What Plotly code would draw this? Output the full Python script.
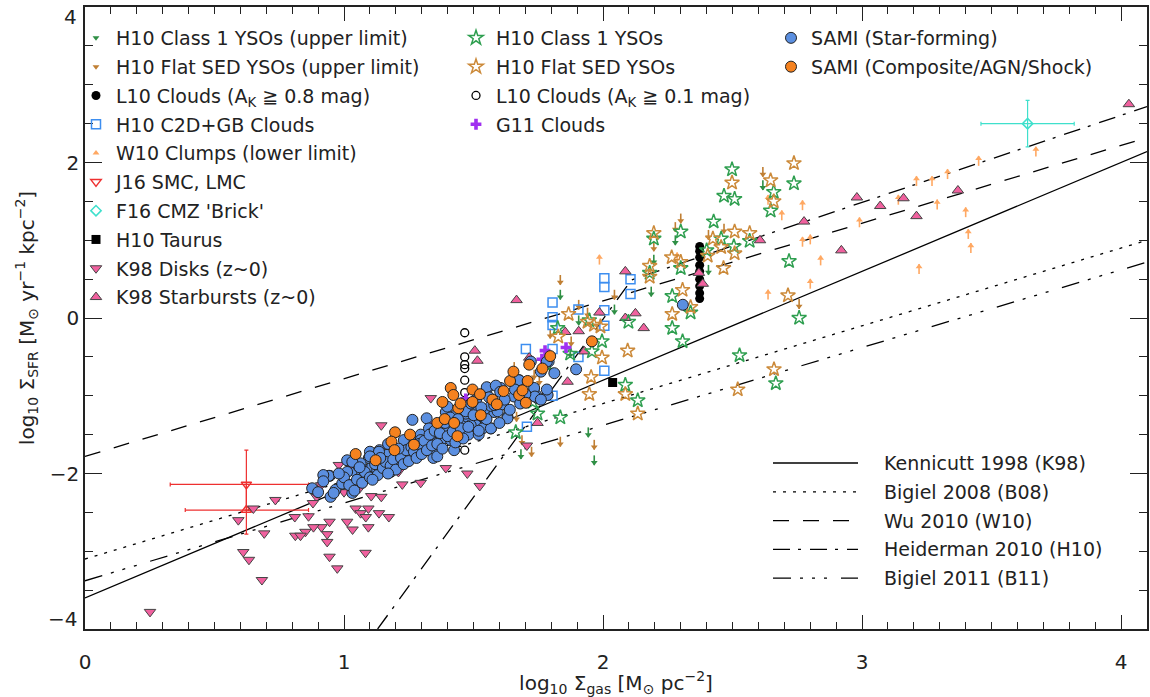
import plotly.graph_objects as go

# ---------------- data: x = log10 Σgas [M☉ pc^-2], y = log10 ΣSFR [M☉ yr^-1 kpc^-2] ----------------
h10_c1_ul_x = [2.617, 2.279, 2.196, 2.186, 2.407, 2.044, 1.835, 1.906, 1.873, 1.796, 1.943, 1.966, 1.683, 1.737]
h10_c1_ul_y = [1.71, 1.00, 0.75, 0.34, 0.62, 0.11, 0.30, -0.03, -0.45, -0.63, -1.47, -1.83, -1.75, -0.94]

h10_flat_ul_x = [2.617, 2.30, 2.279, 2.196, 2.467, 2.407, 1.835, 2.044, 1.906, 1.877, 2.757, 1.796, 1.657,
                 1.734, 1.754, 1.666, 1.687, 1.724, 1.835, 1.966, 1.94]
h10_flat_ul_y = [1.88, 1.28, 1.17, 0.92, 1.15, 1.07, 0.49, 0.30, 0.17, -0.30, 0.18, -0.20, -0.63,
                 -0.73, -0.80, -1.27, -1.57, -1.72, -1.59, -1.63, 0.07]

l10_hi_x = [2.373, 2.373, 2.373, 2.373, 2.373, 2.373, 2.373, 2.373, 2.373]
l10_hi_y = [0.92, 0.86, 0.78, 0.68, 0.60, 0.50, 0.41, 0.32, 0.25]

h10_c2d_x = [2.005, 2.005, 2.106, 2.106, 1.805, 1.805, 1.805, 2.005, 2.005, 1.905, 1.702, 1.805, 1.905,
             2.005, 1.805, 1.706]
h10_c2d_y = [0.51, 0.40, 0.50, 0.31, 0.20, 0.01, -0.09, 0.10, -0.10, 0.11, -0.40, -0.40, -0.50,
             -0.68, -1.00, -1.40]

w10_x = [3.671, 3.45, 3.33, 3.27, 3.21, 3.14, 3.29, 3.40, 2.99, 2.77, 2.69, 2.77, 2.80, 2.84, 3.41,
         3.42, 3.22, 2.80, 2.637, 2.637, 1.986, 2.286]
w10_y = [2.14, 2.02, 1.85, 1.76, 1.76, 1.52, 1.46, 1.36, 1.23, 1.45, 1.32, 0.98, 1.01, 0.74, 1.08,
         0.90, 0.63, 0.44, 1.52, 0.30, 0.75, 0.78]

j16_x = [0.623, 0.623]            # SMC (down), LMC (up)
j16_y = [-2.14, -2.47]
j16_xerr_minus = [0.294, 0.236]
j16_xerr_plus = [0.24, 0.24]
j16_yerr_plus = [0.44, 0.33]
j16_yerr_minus = [0.33, 0.31]

f16_x = [3.639]
f16_y = [2.50]
f16_xerr = [0.18]
f16_yerr = [0.30]

taurus_x = [2.037]
taurus_y = [-0.83]

k98_disk_x = [1.144, 0.98, 0.912, 1.06, 0.894, 1.105, 1.144, 0.735, 0.65, 0.88, 1.225, 1.045, 1.064, 1.094,
              1.135, 1.173, 1.084, 0.592, 0.81, 0.863, 1.012, 0.944, 0.913, 0.882, 1.033, 1.094, 0.851,
              0.812, 0.832, 0.692, 0.935, 0.935, 0.611, 0.633, 0.944, 1.083, 0.974, 0.683, 0.251, 1.335,
              1.393, 1.476, 1.524, 1.706, 1.296, 1.21, 1.025, 1.0, 1.033, 1.12]
k98_disk_y = [-1.38, -1.89, -2.15, -2.19, -2.30, -2.29, -2.30, -2.34, -2.45, -2.38, -2.14, -2.45, -2.51, -2.45,
              -2.51, -2.56, -2.56, -2.60, -2.56, -2.55, -2.62, -2.62, -2.69, -2.69, -2.72, -2.69, -2.75,
              -2.80, -2.80, -2.77, -2.78, -2.88, -3.01, -3.11, -3.07, -3.02, -3.22, -3.37, -3.78, -1.03,
              -1.93, -2.00, -2.16, -1.64, -2.12, -1.98, -2.11, -2.24, -1.92, -1.96]

k98_sb_x = [4.03, 2.98, 3.07, 3.16, 3.21, 3.37, 2.776, 2.92, 2.606, 2.086, 2.37, 2.385, 1.986, 2.086, 2.125,
            2.157, 1.854, 1.906, 1.928, 1.715, 1.666, 1.505, 1.515, 1.863, 1.747]
k98_sb_y = [2.75, 1.55, 1.44, 1.54, 1.31, 1.64, 1.24, 0.87, 1.00, 0.60, 0.58, 0.44, 0.07, 0.00, 0.06,
            -0.13, -0.18, -0.17, -0.43, -0.51, 0.23, -0.42, -0.55, -0.82, -1.35]

h10_c1_x = [2.498, 2.467, 2.508, 2.659, 2.647, 2.737, 2.427, 2.30, 2.196, 2.456, 2.505, 2.566, 2.40, 2.718,
            2.30, 2.18, 2.267, 2.338, 2.267, 2.307, 2.757, 2.527, 2.098, 1.947, 1.825, 1.996, 1.957, 1.873,
            2.086, 2.134, 1.835, 1.747, 1.663, 1.728, 2.667]
h10_c1_y = [1.91, 1.57, 1.53, 1.62, 1.38, 1.73, 1.24, 1.11, 1.02, 1.02, 0.92, 0.99, 0.87, 0.73,
            0.64, 0.58, 0.28, 0.07, -0.13, -0.30, 0.00, -0.48, -0.05, -0.03, -0.13, -0.30, -0.43, -0.46,
            -0.86, -1.06, -1.28, -1.23, -1.47, -1.08, -0.84]

h10_flat_x = [2.737, 2.498, 2.647, 2.659, 2.196, 2.508, 2.566, 2.424, 2.456, 2.508, 2.404, 2.465, 2.265,
              2.30, 2.18, 2.18, 2.307, 2.714, 2.338, 2.267, 1.867, 2.095, 1.996, 1.827, 1.954, 1.947,
              2.086, 2.134, 2.52, 1.94, 1.965, 1.99, 2.66]
h10_flat_y = [1.99, 1.74, 1.77, 1.50, 1.09, 1.11, 1.09, 1.02, 0.91, 0.83, 0.80, 0.64, 0.78,
              0.72, 0.67, 0.53, 0.36, 0.29, 0.14, 0.05, 0.05, -0.42, -0.51, -0.24, -0.76, -0.98,
              -0.98, -1.23, -0.92, -0.05, -0.09, -0.11, -0.66]

l10_lo_x = [1.466, 1.466, 1.466, 1.466, 1.466, 1.466, 1.466]
l10_lo_y = [-0.19, -0.50, -0.60, -0.65, -0.80, -0.96, -1.70]

g11_x = [1.776, 1.764, 1.857, 1.47, 1.34]
g11_y = [-0.42, -0.53, -0.38, -1.04, -1.40]

sami_sf_x = [0.877, 0.945, 0.967, 0.993, 1.012, 1.032, 1.045, 1.057, 1.07, 1.09, 1.10, 1.109, 1.128, 1.137,
             1.154, 1.17, 1.18, 1.199, 1.212, 1.219, 1.234, 1.244, 1.257, 1.264, 1.277, 1.29, 1.296, 1.309,
             1.319, 1.328, 1.337, 1.345, 1.354, 1.36, 1.373, 1.386, 1.393, 1.399, 1.412, 1.425, 1.431,
             1.438, 1.444, 1.451, 1.463, 1.47, 1.476,
             1.747, 1.786, 1.721, 1.79, 1.76, 1.676, 1.657, 1.631, 1.605, 1.58, 1.567, 1.554, 1.528, 1.509,
             1.476, 1.36, 1.341, 1.296, 1.231, 1.212, 1.186, 1.167, 1.135, 1.096, 1.064, 1.032, 1.012,
             0.948, 0.941, 0.92,
             1.896, 1.812, 1.783, 1.741, 1.783, 2.308,
             1.551, 1.586, 1.603, 1.399, 1.431, 1.47, 1.502, 1.541, 1.567, 1.593, 1.612, 1.631, 1.547,
             1.489, 1.451, 1.535, 1.567, 1.48, 1.52, 1.734, 1.737, 1.76, 1.675,
             1.00, 1.02, 1.05, 1.07, 1.08, 1.10, 1.12, 1.13, 1.15, 1.16, 1.18, 1.19, 1.20, 1.22, 1.23,
             1.24, 1.25, 1.26, 1.27, 1.28, 1.29, 1.30, 1.31, 1.32, 1.33, 1.34, 1.35, 1.36, 1.37, 1.38,
             1.39, 1.40, 1.41, 1.42, 1.43, 1.44, 1.45, 1.46, 1.47, 1.48, 1.49, 1.50, 1.51, 1.52, 1.53,
             1.55, 1.56, 1.58, 1.60, 1.62, 1.64, 1.66, 1.68, 1.70, 1.10, 1.14, 1.06, 0.98, 0.92, 0.90,
             0.96, 1.04, 1.11, 1.17, 1.21, 1.17]
sami_sf_y = [-2.19, -2.03, -2.21, -2.13, -1.83, -2.25, -1.98, -1.91, -2.00, -1.95, -1.72, -1.91, -1.95, -1.70,
             -1.83, -1.76, -1.98, -1.78, -1.87, -1.76, -1.72, -1.63, -1.78, -1.31, -1.57, -1.74, -1.50, -1.68,
             -1.29, -1.42, -1.57, -1.80, -1.70, -1.53, -1.40, -1.55, -1.21, -1.44, -1.57, -1.70, -1.38,
             -1.50, -1.16, -1.27, -1.23, -1.35, -1.14,
             -1.03, -0.99, -0.56, -0.56, -0.69, -0.80, -1.01, -1.27, -0.90, -1.21, -1.42, -0.90, -1.33, -1.38,
             -1.27, -1.78, -1.48, -1.57, -1.57, -1.74, -1.65, -1.76, -1.72, -1.80, -1.87, -1.85, -1.98,
             -2.30, -2.03, -2.02,
             -0.66, -0.71, -0.92, -0.99, -0.56, 0.17,
             -0.89, -0.87, -0.95, -1.14, -1.25, -1.23, -1.18, -1.18, -1.13, -1.20, -1.11, -1.29, -1.31,
             -1.38, -1.44, -1.42, -1.42, -1.50, -1.50, -0.90, -1.01, -1.05, -0.80,
             -2.05, -2.15, -2.08, -2.12, -1.98, -2.05, -1.88, -2.02, -1.93, -1.85, -1.90, -1.82, -1.95, -1.80, -1.88,
             -1.70, -1.84, -1.66, -1.72, -1.80, -1.62, -1.75, -1.58, -1.70, -1.50, -1.64, -1.45, -1.62, -1.48, -1.68,
             -1.35, -1.52, -1.28, -1.46, -1.60, -1.30, -1.42, -1.55, -1.20, -1.40, -1.10, -1.25, -1.05, -1.45, -1.15,
             -1.30, -1.02, -1.12, -1.35, -1.05, -1.18, -0.92, -1.10, -0.98, -1.78, -1.80, -1.92, -2.00, -2.10, -2.24,
             -2.25, -2.22, -2.08, -2.00, -1.68, -1.62]

sami_comp_x = [1.045, 1.122, 1.197, 1.183, 1.195, 1.255, 1.27, 1.36, 1.389, 1.425, 1.38, 1.412, 1.422, 1.441,
               1.438, 1.496, 1.525, 1.528, 1.496, 1.573, 1.59, 1.616, 1.641, 1.654, 1.676, 1.689, 1.709,
               1.702, 1.715, 1.796, 1.957, 1.766, 1.45]
sami_comp_y = [-1.75, -1.83, -1.47, -1.59, -1.70, -1.50, -1.63, -1.35, -1.30, -1.35, -1.08, -0.90, -0.99, -1.16,
               -1.52, -0.92, -0.98, -1.25, -1.08, -1.05, -1.11, -0.94, -0.81, -0.69, -0.99, -0.93, -0.81,
               -1.09, -0.60, -0.49, -0.30, -0.65, -1.10]

# published relations: (slope, intercept) in log space
rel_x_range = [0.0, 4.1]
k98_rel = [1.4, -3.6]
b08_rel = [1.0, -3.1]
w10_rel = [1.0, -1.78]
b11_rel = [1.0, -3.38]
h10_break = [2.11, 0.49]          # (x, y) of the Heiderman threshold
h10_slopes = [4.58, 1.12]

line_names = ["Kennicutt 1998 (K98)", "Bigiel 2008 (B08)", "Wu 2010 (W10)",
              "Heiderman 2010 (H10)", "Bigiel 2011 (B11)"]

# axis ticks
x_ticks = [0, 1, 2, 3, 4]
y_ticks = [-4, -2, 0, 2, 4]
y_tick_text = ["−4", "−2", "0", "2", "4"]

# ---------------- styling ----------------
FONT = "DejaVu Sans"
TXT = "#222222"
LEG_SIZE = 19
C_GREEN_ARR = "#2f8f45"
C_BROWN_ARR = "#c07f33"
C_LORANGE = "#ffa862"
C_SQ = "#3d8ef0"
C_RED = "#ee3030"
C_CYAN = "#3fe0cc"
C_PINK = "#f0609e"
C_GREEN = "#2f9f50"
C_BROWN = "#cc8a3a"
C_PURPLE = "#a030f0"
C_BLUE = "#5b8fe0"
C_ORANGE = "#f5821f"
HEAD_SHIFT = 0.03
DASHES = ["solid", "3px,7px", "16px,14px", "17px,8px,3px,9px", "18px,9px,3px,9px,3px,9px,3px,14px"]

fig = go.Figure()

# relation lines
def line_pts(rel):
    xs = rel_x_range
    return xs, [rel[0] * v + rel[1] for v in xs]

h10_x0 = h10_break[0] - (h10_break[1] + 4.0) / h10_slopes[0]
h10_lx = [h10_x0, h10_break[0], rel_x_range[1]]
h10_ly = [h10_break[1] + h10_slopes[0] * (h10_x0 - h10_break[0]), h10_break[1],
          h10_break[1] + h10_slopes[1] * (rel_x_range[1] - h10_break[0])]

rel_series = [line_pts(k98_rel), line_pts(b08_rel), line_pts(w10_rel), (h10_lx, h10_ly), line_pts(b11_rel)]
for (lx, ly), nm, ds in zip(rel_series, line_names, DASHES):
    fig.add_trace(go.Scatter(x=lx, y=ly, mode="lines", name=nm, showlegend=False,
                             line=dict(color="black", width=1.3, dash=ds), hoverinfo="skip"))


def add_arrows(x, y, color, name, legend, direction):
    sign = -1 if direction == "down" else 1
    fig.add_trace(go.Scatter(x=x, y=y, mode="markers", showlegend=False, legend=legend, legendgroup=name,
                             marker=dict(symbol="line-ns", size=7, line=dict(width=1.6, color=color)),
                             hoverinfo="skip"))
    fig.add_trace(go.Scatter(x=x, y=[v + sign * HEAD_SHIFT for v in y], mode="markers", name=name,
                             legend=legend, legendgroup=name,
                             marker=dict(symbol="triangle-" + direction, size=6, color=color,
                                         line=dict(width=0))))


def add_pts(x, y, name, legend, marker, **kw):
    fig.add_trace(go.Scatter(x=x, y=y, mode="markers", name=name, legend=legend, legendgroup=name,
                             marker=marker, **kw))


# ---- legend 1 (left column)
add_arrows(h10_c1_ul_x, h10_c1_ul_y, C_GREEN_ARR, "H10 Class 1 YSOs (upper limit)", "legend", "down")
add_arrows(h10_flat_ul_x, h10_flat_ul_y, C_BROWN_ARR, "H10 Flat SED YSOs (upper limit)", "legend", "down")
add_pts(l10_hi_x, l10_hi_y, "L10 Clouds (A<sub>K</sub> ≧ 0.8 mag)", "legend",
        dict(symbol="circle", size=9, color="black"))
add_pts(h10_c2d_x, h10_c2d_y, "H10 C2D+GB Clouds", "legend",
        dict(symbol="square-open", size=9, color=C_SQ, line=dict(width=1.5)))
add_arrows(w10_x, w10_y, C_LORANGE, "W10 Clumps (lower limit)", "legend", "up")
add_pts([j16_x[0]], [j16_y[0]], "J16 SMC, LMC", "legend",
        dict(symbol="triangle-down-open", size=9, color=C_RED, line=dict(width=1.5)),
        error_x=dict(type="data", symmetric=False, array=[j16_xerr_plus[0]], arrayminus=[j16_xerr_minus[0]],
                     color=C_RED, thickness=1.2, width=2),
        error_y=dict(type="data", symmetric=False, array=[j16_yerr_plus[0]], arrayminus=[j16_yerr_minus[0]],
                     color=C_RED, thickness=1.2, width=2))
fig.add_trace(go.Scatter(x=[j16_x[1]], y=[j16_y[1]], mode="markers", showlegend=False, legend="legend",
                         legendgroup="J16 SMC, LMC",
                         marker=dict(symbol="triangle-up-open", size=9, color=C_RED, line=dict(width=1.5)),
                         error_x=dict(type="data", symmetric=False, array=[j16_xerr_plus[1]],
                                      arrayminus=[j16_xerr_minus[1]], color=C_RED, thickness=1.2, width=2),
                         error_y=dict(type="data", symmetric=False, array=[j16_yerr_plus[1]],
                                      arrayminus=[j16_yerr_minus[1]], color=C_RED, thickness=1.2, width=2)))
add_pts(f16_x, f16_y, "F16 CMZ 'Brick'", "legend",
        dict(symbol="diamond-open", size=8, color=C_CYAN, line=dict(width=1.5)),
        error_x=dict(type="data", array=f16_xerr, color=C_CYAN, thickness=1.2, width=2),
        error_y=dict(type="data", array=f16_yerr, color=C_CYAN, thickness=1.2, width=2))
add_pts(taurus_x, taurus_y, "H10 Taurus", "legend", dict(symbol="square", size=9, color="black"))
add_pts(k98_disk_x, k98_disk_y, "K98 Disks (z~0)", "legend",
        dict(symbol="triangle-down", size=10, color=C_PINK, line=dict(width=1, color="#444")))
add_pts(k98_sb_x, k98_sb_y, "K98 Starbursts (z~0)", "legend",
        dict(symbol="triangle-up", size=10, color=C_PINK, line=dict(width=1, color="#444")))

# ---- legend 2 (middle column)
add_pts(h10_c1_x, h10_c1_y, "H10 Class 1 YSOs", "legend2",
        dict(symbol="star-open", size=11, color=C_GREEN, line=dict(width=1.5)))
add_pts(h10_flat_x, h10_flat_y, "H10 Flat SED YSOs", "legend2",
        dict(symbol="star-open", size=11, color=C_BROWN, line=dict(width=1.5)))
add_pts(l10_lo_x, l10_lo_y, "L10 Clouds (A<sub>K</sub> ≧ 0.1 mag)", "legend2",
        dict(symbol="circle-open", size=8, color="black", line=dict(width=1.3)))
add_pts(g11_x, g11_y, "G11 Clouds", "legend2", dict(symbol="cross", size=9, color=C_PURPLE))

# ---- legend 3 (SAMI)
add_pts(sami_sf_x, sami_sf_y, "SAMI (Star-forming)", "legend3",
        dict(symbol="circle", size=11, color=C_BLUE, line=dict(width=1, color="#222")))
add_pts(sami_comp_x, sami_comp_y, "SAMI (Composite/AGN/Shock)", "legend3",
        dict(symbol="circle", size=11, color=C_ORANGE, line=dict(width=1, color="#222")))

# ---- manual legend for relation lines
PLOT_L, PLOT_R, PLOT_T, PLOT_B = 85, 1147, 7, 629
def px2paper(px, py):
    return (px - PLOT_L) / (PLOT_R - PLOT_L), (PLOT_B - py) / (PLOT_B - PLOT_T)

shapes = []
annotations = []
for i, (nm, ds) in enumerate(zip(line_names, DASHES)):
    row_y = 463 + i * 28.8
    x0, yy = px2paper(773, row_y)
    x1, _ = px2paper(858, row_y)
    xt, _ = px2paper(882, row_y)
    shapes.append(dict(type="line", xref="paper", yref="paper", x0=x0, x1=x1, y0=yy, y1=yy,
                       line=dict(color="black", width=1.3, dash=ds)))
    annotations.append(dict(xref="paper", yref="paper", x=xt, y=yy, text=nm, showarrow=False,
                            xanchor="left", yanchor="middle", font=dict(family=FONT, size=LEG_SIZE, color=TXT)))

# y tick labels at the frame edges are kept inside the figure, as in the original
for val, txt in zip(y_ticks, y_tick_text):
    if abs(val) == 4:
        annotations.append(dict(xref="paper", yref="y", x=0, y=val, text=txt, showarrow=False,
                                xanchor="right", yanchor="top" if val > 0 else "bottom",
                                xshift=-6, yshift=4 if val > 0 else -4,
                                font=dict(family=FONT, size=20, color=TXT)))
y_axis_text = [t if abs(v) != 4 else "" for v, t in zip(y_ticks, y_tick_text)]

leg_common = dict(bgcolor="rgba(0,0,0,0)", borderwidth=0, font=dict(family=FONT, size=LEG_SIZE, color=TXT),
                  tracegroupgap=1.1, xanchor="left", yanchor="top", itemclick=False, itemdoubleclick=False)

axis_common = dict(showline=True, linecolor="#222", linewidth=1.5, mirror="ticks", ticks="inside",
                   tickcolor="#222", tickwidth=1.2, showgrid=False, zeroline=False, automargin=False,
                   tickfont=dict(family=FONT, size=20, color=TXT))

fig.update_layout(
    width=1150, height=697,
    margin=dict(l=PLOT_L, r=1150 - PLOT_R, t=PLOT_T, b=697 - PLOT_B),
    paper_bgcolor="white", plot_bgcolor="white",
    font=dict(family=FONT, color=TXT),
    xaxis=dict(range=[0, 4.1], tickmode="array", tickvals=x_ticks, ticklen=14, ticklabelstandoff=14,
               ticklabeloverflow="allow",
               minor=dict(dtick=0.1, tick0=0, ticklen=7, ticks="inside", tickcolor="#222", showgrid=False),
               title=dict(text="log<sub>10</sub> Σ<sub>gas</sub> [M<sub>⊙</sub> pc<sup>−2</sup>]",
                          font=dict(family=FONT, size=20, color=TXT), standoff=2),
               **axis_common),
    yaxis=dict(range=[-4, 4], tickmode="array", tickvals=y_ticks, ticktext=y_axis_text, ticklen=17,
               minor=dict(dtick=0.5, tick0=0, ticklen=8, ticks="inside", tickcolor="#222", showgrid=False),
               title=dict(text="log<sub>10</sub> Σ<sub>SFR</sub> [M<sub>⊙</sub> yr<sup>−1</sup> kpc<sup>−2</sup>]",
                          font=dict(family=FONT, size=20, color=TXT), standoff=10),
               **axis_common),
    legend=dict(x=px2paper(76, 0)[0], y=px2paper(0, 19)[1], **leg_common),
    legend2=dict(x=px2paper(456, 0)[0], y=px2paper(0, 19)[1], **leg_common),
    legend3=dict(x=px2paper(771, 0)[0], y=px2paper(0, 19)[1], **leg_common),
    shapes=shapes,
    annotations=annotations,
)

fig.write_html("out.html", config={"displayModeBar": False},
               post_script="document.body.style.margin='0px';document.body.style.overflow='hidden';")
